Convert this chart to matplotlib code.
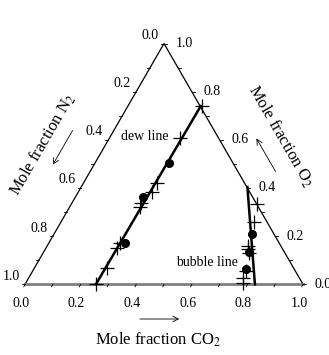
import matplotlib
matplotlib.use("Agg")
import matplotlib.pyplot as plt
import numpy as np

plt.rcParams['font.family'] = ['Liberation Serif', 'DejaVu Serif']
plt.rcParams['mathtext.fontset'] = 'stix'

# mole fractions (CO2, O2); N2 = 1 - CO2 - O2
dew_cross_co2 = [0.265, 0.255, 0.264, 0.264, 0.249, 0.254, 0.257, 0.254, 0.259, 0.254]
dew_cross_o2 = [0.742, 0.606, 0.419, 0.383, 0.336, 0.319, 0.170, 0.152, 0.069, 0.0]
dew_dot_co2 = [0.268, 0.245, 0.275]
dew_dot_o2 = [0.502, 0.361, 0.170]

bubble_cross_co2 = [0.668, 0.694, 0.723, 0.730, 0.740, 0.768, 0.771, 0.782]
bubble_cross_o2 = [0.333, 0.260, 0.161, 0.147, 0.132, 0.057, 0.028, 0.005]
bubble_dot_co2 = [0.711, 0.739, 0.763]
bubble_dot_o2 = [0.209, 0.135, 0.063]

dew_line_co2 = [0.255, 0.262]
dew_line_o2 = [0.0, 0.740]
bubble_line_co2 = [0.827, 0.598]
bubble_line_o2 = [0.0, 0.404]

tick_values = [0.0, 0.2, 0.4, 0.6, 0.8, 1.0]
tick_labels = ["0.0", "0.2", "0.4", "0.6", "0.8", "1.0"]

S3 = np.sqrt(3) / 2


# ternary -> cartesian: CO2 along the base, O2 towards the apex
def tern(co2, o2):
    co2 = np.asarray(co2, dtype=float)
    o2 = np.asarray(o2, dtype=float)
    return co2 + o2 / 2, o2 * S3


# position given in pixels of the picture -> data coords
def pix(xp, yp):
    return (xp - 25) / 278, (284.3 - yp) / 278


fig = plt.figure(figsize=(3.29, 3.55), dpi=100)
ax = fig.add_axes([0, 0, 1, 1])
ax.set_xlim(-25 / 278, 304 / 278)
ax.set_ylim((284.3 - 355) / 278, 284.3 / 278)
ax.axis('off')

# triangle
ax.plot([0, 0.5, 1], [0, S3, 0], color='black', lw=0.9)
ax.plot([0, 1], [0, 0], color='#808080', lw=2)

px = 1 / 278
minor = np.arange(0, 1.01, 0.1)
for v in minor:
    # base ticks (CO2)
    x, y = tern(v, 0)
    ax.plot([x, x - 1.2 * px], [y, y - 2.5 * px], color='black', lw=0.6)
    # left ticks (N2)
    x, y = tern(0, 1 - v)
    ax.plot([x, x - 3 * px], [y, y], color='black', lw=0.6)
    # right ticks (O2)
    x, y = tern(1 - v, v)
    ax.plot([x, x + 3 * px], [y, y], color='black', lw=0.6)

for v, lab in zip(tick_values, tick_labels):
    x, y = tern(v, 0)
    ax.text(x - 4 * px, y - 19 * px, lab, ha='center', va='center', fontsize=10)
    x, y = tern(0, 1 - v)
    ax.text(x - 14 * px, y + 8 * px, lab, ha='center', va='center', fontsize=10)
    x, y = tern(1 - v, v)
    ax.text(x + 20 * px, y, lab, ha='center', va='center', fontsize=10)

# phase lines
x, y = tern(dew_line_co2, dew_line_o2)
ax.plot(x, y, color='black', lw=1.8)
x, y = tern(bubble_line_co2, bubble_line_o2)
ax.plot(x, y, color='black', lw=1.8)

# data points
for c, o in [(dew_cross_co2, dew_cross_o2), (bubble_cross_co2, bubble_cross_o2)]:
    x, y = tern(c, o)
    ax.plot(x, y, '+', color='black', ms=10.5, mew=0.9)
for c, o in [(dew_dot_co2, dew_dot_o2), (bubble_dot_co2, bubble_dot_o2)]:
    x, y = tern(c, o)
    ax.plot(x, y, 'o', color='black', ms=5.5)

ax.text(*pix(144.5, 136.7), "dew line", ha='center', va='center', fontsize=10)
ax.text(*pix(207, 262.7), "bubble line", ha='center', va='center', fontsize=10)

# axis titles and arrows
ax.text(*pix(158, 340), "Mole fraction CO$_2$", ha='center', va='center', fontsize=12)
ax.text(*pix(43, 145), "Mole fraction N$_2$", ha='center', va='center', fontsize=12, rotation=60)
ax.text(*pix(281, 136), "Mole fraction O$_2$", ha='center', va='center', fontsize=12, rotation=-60)

arrow = dict(arrowstyle='->', color='black', lw=0.6, mutation_scale=10)
ax.annotate("", xy=pix(182, 319), xytext=pix(137, 319), arrowprops=arrow)
ax.annotate("", xy=pix(51.5, 167), xytext=pix(74, 128), arrowprops=arrow)
ax.annotate("", xy=pix(255, 136), xytext=pix(277, 174), arrowprops=arrow)

fig.savefig("out.png", dpi=100)
